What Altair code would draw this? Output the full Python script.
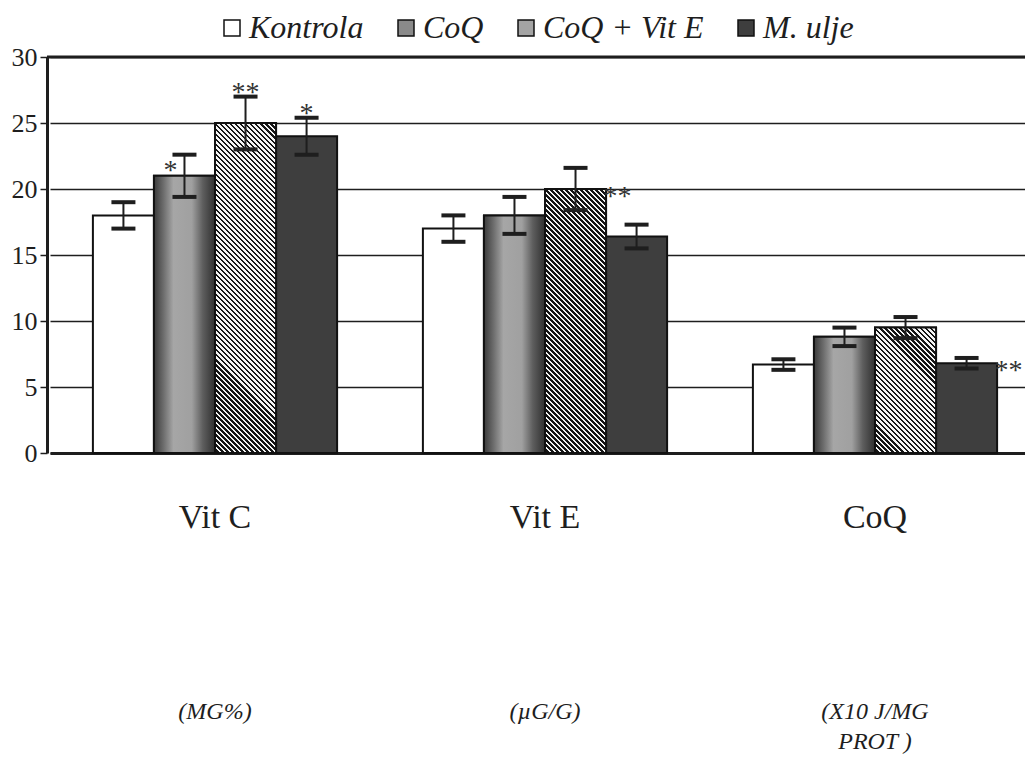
import altair as alt
import pandas as pd

groups = ["Vit C", "Vit E", "CoQ"]
series = ["Kontrola", "CoQ", "CoQ + Vit E", "M. ulje"]
means = {
    "Vit C": [18.0, 21.0, 25.0, 24.0],
    "Vit E": [17.0, 18.0, 20.0, 16.4],
    "CoQ": [6.7, 8.8, 9.5, 6.8],
}
errors = {
    "Vit C": [1.0, 1.6, 2.0, 1.4],
    "Vit E": [1.0, 1.4, 1.6, 0.9],
    "CoQ": [0.4, 0.7, 0.8, 0.4],
}
units = ["(MG%)", "(\u00b5G/G)", "(X10 J/MG\nPROT )"]
y_ticks = [0, 5, 10, 15, 20, 25, 30]
colors = ["#ffffff", "#8a8a8a", "#a4a4a4", "#3e3e3e"]

ann_group = ["Vit C", "Vit C", "Vit C", "Vit E", "CoQ"]
ann_series = ["CoQ", "CoQ + Vit E", "M. ulje", "CoQ + Vit E", "M. ulje"]
ann_text = ["*", "**", "*", "**", "**"]
ann_pos = ["left", "above", "above", "right", "right"]

rows = []
for g in groups:
    for s, m, e in zip(series, means[g], errors[g]):
        rows.append({"group": g, "series": s, "mean": m, "lo": m - e, "hi": m + e})
df = pd.DataFrame(rows)

ann = pd.DataFrame({"group": ann_group, "series": ann_series, "text": ann_text, "pos": ann_pos})
ann = ann.merge(df, on=["group", "series"])
units_df = pd.DataFrame({"group": groups, "unit": units})
top_df = pd.DataFrame({"y": [30]})

FONT = "Liberation Serif"
INK = "#1e1e1e"
W, H = 978, 396
PX_PER_UNIT = H / 30.0
BAR_W = 990 / 3 * 0.74 / 4

xscale = alt.Scale(domain=groups, range=[3, 993], paddingInner=0.26, paddingOuter=0.13)
xoff = alt.XOffset("series:N", scale=alt.Scale(domain=series, paddingInner=0, paddingOuter=0))
yscale = alt.Scale(domain=[0, 30], nice=False)
x_plain = alt.X("group:N", scale=xscale, sort=groups)

x_enc = alt.X(
    "group:N", scale=xscale, sort=groups, title=None,
    axis=alt.Axis(labelFont=FONT, labelFontSize=34, labelColor=INK, labelAngle=0,
                  ticks=False, labelPadding=47, domainColor=INK, domainWidth=3,
                  grid=False),
)

base = alt.Chart(df)

bars = base.mark_bar(stroke="#111111", strokeWidth=2).encode(
    x=x_enc,
    xOffset=xoff,
    y=alt.Y("mean:Q", scale=yscale, title=None,
            axis=alt.Axis(values=y_ticks, labelFont=FONT, labelFontSize=26, labelColor=INK,
                          domainColor=INK, domainWidth=3, tickColor=INK, tickSize=7,
                          tickWidth=1.5, labelPadding=3, grid=True, gridColor=INK,
                          gridWidth=1.3, gridOpacity=1)),
    color=alt.Color("series:N", scale=alt.Scale(domain=series, range=colors),
                    legend=alt.Legend(orient="none", legendX=169, legendY=-45,
                                      direction="horizontal", title=None,
                                      symbolType="square", symbolSize=256,
                                      symbolStrokeColor="#111111", symbolStrokeWidth=1.5,
                                      symbolOpacity=1,
                                      labelFont=FONT, labelFontStyle="italic",
                                      labelFontSize=32, labelColor=INK,
                                      columnPadding=26, labelOffset=1,
                                      labelLimit=300)),
)


def stripe_fill(h, w, period=5.0, dark=0.45):
    # diagonal "\" stripes expressed in the bar's bounding-box units
    r = h / w
    s = (1 + r) / (1 + r * r)
    n = max(1, int(round((w + h) / period)))
    p = 1.0 / n
    stops = []
    for k in range(n):
        a = k * p
        b = a + p * (1 - dark)
        stops += [alt.GradientStop(offset=a, color="#f4f4f4"),
                  alt.GradientStop(offset=b, color="#f4f4f4"),
                  alt.GradientStop(offset=b, color="#151515"),
                  alt.GradientStop(offset=a + p, color="#151515")]
    return alt.LinearGradient(gradient="linear", stops=stops,
                              x1=0, y1=1, x2=s, y2=1 - s * r)


stripe_layers = []
for g in groups:
    m = means[g][series.index("CoQ + Vit E")]
    stripe_layers.append(
        base.transform_filter((alt.datum.group == g) & (alt.datum.series == "CoQ + Vit E"))
        .mark_bar(fill=stripe_fill(m * PX_PER_UNIT, BAR_W), stroke="#111111", strokeWidth=2)
        .encode(x=x_plain, xOffset=xoff, y=alt.Y("mean:Q", scale=yscale))
    )

shade = alt.LinearGradient(
    gradient="linear", x1=0, y1=0, x2=1, y2=0,
    stops=[alt.GradientStop(offset=0, color="#3a3a3a"),
           alt.GradientStop(offset=0.16, color="#6e6e6e"),
           alt.GradientStop(offset=0.32, color="#a6a6a6"),
           alt.GradientStop(offset=0.62, color="#a0a0a0"),
           alt.GradientStop(offset=0.8, color="#5e5e5e"),
           alt.GradientStop(offset=1, color="#303030")])
coq_layer = base.transform_filter(alt.datum.series == "CoQ").mark_bar(
    fill=shade, stroke="#111111", strokeWidth=2
).encode(x=x_plain, xOffset=xoff, y=alt.Y("mean:Q", scale=yscale))

err = base.mark_rule(color=INK, strokeWidth=2).encode(
    x=x_plain, xOffset=xoff, y=alt.Y("lo:Q", scale=yscale), y2="hi:Q")
cap_hi = base.mark_tick(orient="horizontal", size=24, thickness=4, color=INK, opacity=1).encode(
    x=x_plain, xOffset=xoff, y=alt.Y("hi:Q", scale=yscale))
cap_lo = base.mark_tick(orient="horizontal", size=24, thickness=4, color=INK, opacity=1).encode(
    x=x_plain, xOffset=xoff, y=alt.Y("lo:Q", scale=yscale))

top_rule = alt.Chart(top_df).mark_rule(color=INK, strokeWidth=3).encode(y=alt.Y("y:Q", scale=yscale))


def ann_layer(pos, field, dx, dy):
    return alt.Chart(ann).transform_filter(alt.datum.pos == pos).mark_text(
        font=FONT, fontSize=28, color="#333333", dx=dx, dy=dy, baseline="middle"
    ).encode(x=x_plain, xOffset=xoff, y=alt.Y(f"{field}:Q", scale=yscale), text="text:N")


ann_above = ann_layer("above", "hi", 0, -4)
ann_left = ann_layer("left", "hi", -14, 16)
ann_right = ann_layer("right", "mean", 42, 8)

units_layer = alt.Chart(units_df).mark_text(
    font=FONT, fontSize=24, fontStyle="italic", color=INK, lineBreak="\n",
    baseline="top", lineHeight=30,
).encode(x=x_plain, y=alt.value(643), text="unit:N")

chart = alt.layer(
    bars, coq_layer, *stripe_layers, top_rule, err, cap_hi, cap_lo,
    ann_above, ann_left, ann_right, units_layer
).properties(
    width=W, height=H,
    autosize=alt.AutoSizeParams(type="none"),
    padding={"left": 39, "top": 49, "right": 0, "bottom": 305},
    background="white",
).configure_view(stroke=None)

chart.save("out.html", embed_options={"renderer": "svg", "actions": False})
